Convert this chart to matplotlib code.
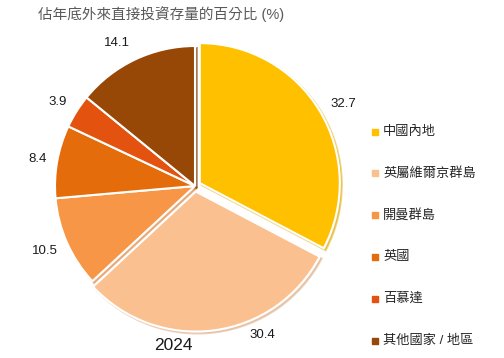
import numpy as np
import matplotlib.pyplot as plt

plt.rcParams['font.family'] = ['Liberation Sans', 'Noto Sans CJK TC']

# datos
categorias = ['中國內地', '英屬維爾京群島', '開曼群島', '英國', '百慕達', '其他國家 / 地區']
valores = [32.7, 30.4, 10.5, 8.4, 3.9, 14.1]
cores = ['#FFC000', '#FAC090', '#F79646', '#E46C0A', '#E3520F', '#974706']
explodir = [0.04, 0.04, 0, 0, 0, 0]
# distancia do rótulo (em raios) e ajuste de ângulo para cada fatia
dist_rotulo = [1.21, 1.17, 1.17, 1.14, 1.15, 1.165]
desvio_ang = [-2, 16.6, -0.6, 0.5, 0.7, 3.1]

titulo = '佔年底外來直接投資存量的百分比 (%)'
ano = '2024'

fig = plt.figure(figsize=(5.04, 3.58), dpi=100)
W, H = 504, 358
R = 140.0
cx, cy = 195, 186
meio = 150
ax = fig.add_axes([(cx - meio) / W, (H - cy - meio) / H, 2 * meio / W, 2 * meio / H])

fatias, _ = ax.pie(valores, colors=cores, startangle=90, counterclock=False,
                   explode=explodir, radius=1,
                   wedgeprops=dict(edgecolor='white', linewidth=1.5),
                   shadow=dict(ox=0.01, oy=-0.01, shade=0.12))

# pie() muda os limites, então define depois
ax.set_xlim(-meio / R, meio / R)
ax.set_ylim(-meio / R, meio / R)
ax.set_aspect('equal')
ax.axis('off')

for f, v, d, da in zip(fatias, valores, dist_rotulo, desvio_ang):
    ang = np.deg2rad((f.theta1 + f.theta2) / 2 + da)
    ax.text(d * np.cos(ang), d * np.sin(ang), f'{v:.1f}', ha='center', va='center',
            fontsize=9.5, color='#1a1a1a')

ax.text(-22 / R, -160 / R, ano, ha='center', va='center', fontsize=12.5, color='#1a1a1a')

fig.text(38 / W, 1 - 14 / H, titulo, ha='left', va='center', fontsize=10.5, color='#595959')

# legenda
y0, passo = 131.5, 41.8
for i, (c, nome) in enumerate(zip(categorias, cores)):
    y = y0 + i * passo
    fig.patches.append(plt.Rectangle((372 / W, 1 - (y + 3) / H), 6 / W, 6 / H,
                                     transform=fig.transFigure, color=nome))
    fig.text(383 / W, 1 - y / H, c, ha='left', va='center', fontsize=9.5, color='#262626')

plt.savefig('out.png', dpi=100)
